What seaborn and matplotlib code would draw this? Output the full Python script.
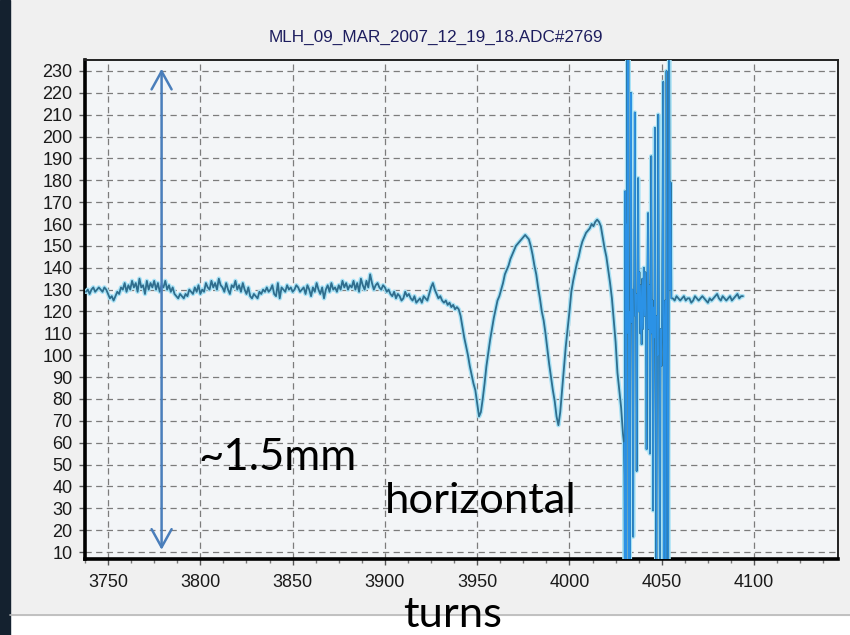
import numpy as np
import pandas as pd
import matplotlib
matplotlib.use("Agg")
import matplotlib.pyplot as plt
import seaborn as sns

# ---------------- data ----------------
TITLE = "MLH_09_MAR_2007_12_19_18.ADC#2769"

# regularly sampled part, one sample per turn, starting at turn 3738
adc_regular = [
    129, 130, 128, 130, 131, 129, 130, 131, 130, 129, 131, 130,
    128, 126, 127, 125, 127, 129, 128, 131, 130, 133, 129,
    132, 130, 134, 131, 133, 129, 135, 131, 132, 128, 134, 130, 133, 131, 134,
    130, 133, 129, 132, 131, 134, 130, 132, 129, 131, 128, 127, 126, 128, 127,
    126, 128, 127, 130, 129, 128, 131, 129, 132, 128, 130, 129, 133, 131, 130,
    134, 131, 133, 130, 135, 132, 131, 129, 133, 130, 128, 132, 131, 134, 130,
    132, 129, 133, 130, 128, 131, 127, 126, 128, 127, 126, 129, 128, 130, 129,
    131, 129, 130, 132, 128, 127, 133, 126, 131, 130, 129, 132, 130, 131, 129,
    130, 132, 131, 129, 130, 131, 128, 132, 130, 127, 131, 129, 133, 130, 128,
    131, 126, 130, 132, 129, 133, 130, 131, 129, 132, 130, 134, 131, 133, 130,
    132, 131, 134, 130, 133, 129, 135, 132, 130, 134, 131, 137, 133, 130, 132,
    133, 131, 130, 132, 131, 129, 130, 128, 127, 129, 126, 128, 127, 125, 126,
    129, 127, 128, 126, 125, 127, 124, 125, 126, 124, 127, 126, 125, 128, 131,
    # 3926 ...
    133, 130, 128, 126, 127, 125, 124, 125, 123, 124, 122, 123, 121, 122, 121,
    118, 113, 108, 104, 100, 95, 91, 87, 84, 78, 72, 74, 80, 87, 95,
    101, 107, 112, 117, 121, 125, 127, 130, 133, 137, 139, 141, 144, 146, 148,
    150, 151, 152, 153, 154, 155, 154, 153, 150, 146, 141, 137, 131, 126, 120,
    116, 110, 103, 96, 90, 84, 79, 72, 68, 74, 84, 94, 104, 112, 120,
    129, 134, 138, 142, 145, 149, 152, 154, 156, 157, 158, 160, 159, 161, 162,
    161, 159, 154, 149, 145, 139, 133, 126, 116, 106, 92, 84, 76, 64,
]
first_turn = 3738

# burst region (oscillating, densely sampled)
turns_burst = [
    4029.5, 4029.8, 4030.0, 4030.2, 4030.4, 4030.6, 4030.8, 4031.1, 4031.4, 4031.7,
    4031.9, 4032.2, 4032.5, 4032.7, 4033.0, 4033.3, 4033.6, 4034.0, 4034.5, 4034.8,
    4035.1, 4035.4, 4035.7, 4036.0, 4036.4, 4036.8, 4037.2, 4037.5, 4037.9, 4038.3,
    4038.7, 4039.1, 4039.5, 4039.9, 4040.3, 4040.7, 4041.1, 4041.5, 4041.8, 4042.2,
    4042.6, 4043.0, 4043.3, 4043.6, 4044.0, 4044.3, 4044.7, 4045.0, 4045.3, 4045.7,
    4046.0, 4046.3, 4046.7, 4047.1, 4047.5, 4047.8, 4048.1, 4048.5, 4049.0, 4049.4,
    4049.8, 4050.2, 4050.8, 4051.1, 4051.5, 4051.9, 4052.2, 4052.6, 4053.0, 4053.5,
    4054.0, 4054.4, 4054.8, 4055.2,
]
adc_burst = [
    60, 45, 0, 175, 90, 160, 0, 150, 240, 110,
    240, 0, 120, 0, 125, 220, 115, 130, 17, 120,
    135, 211, 118, 128, 47, 125, 181, 120, 138, 110,
    132, 105, 135, 112, 140, 118, 138, 110, 57, 134,
    165, 112, 132, 55, 128, 191, 110, 125, 29, 122,
    108, 204, 87, 0, 118, 100, 210, 105, 0, 112,
    95, 120, 225, 0, 110, 125, 0, 230, 100, 0,
    240, 130, 179, 126,
]

# quiet tail, one sample per turn from 4056
adc_tail = [
    126, 125, 127, 126, 125, 126, 127, 125, 126, 126, 124, 125, 127,
    126, 125, 126, 127, 126, 125, 124, 126, 125, 126, 127, 128, 126,
    125, 127, 126, 125, 126, 127, 125, 126, 127, 128, 126, 127, 127,
]
tail_first_turn = 4056

x_ticks = [3750, 3800, 3850, 3900, 3950, 4000, 4050, 4100]
y_ticks = list(range(10, 231, 10))

# ---------------- assemble ----------------
turns_regular = np.arange(first_turn, first_turn + len(adc_regular))
turns_tail = np.arange(tail_first_turn, tail_first_turn + len(adc_tail))
df = pd.DataFrame({
    "turns": np.concatenate([turns_regular, turns_burst, turns_tail]).astype(float),
    "adc": np.concatenate([adc_regular, adc_burst, adc_tail]).astype(float),
})
df_burst = pd.DataFrame({"turns": turns_burst, "adc": adc_burst})

# ---------------- figure ----------------
sns.set_style("white")
W, H = 850, 635
fig = plt.figure(figsize=(W / 100, H / 100), dpi=100)
fig.patch.set_facecolor("white")

# window background, dark side bar and separator
fig.add_artist(plt.Rectangle((10 / W, 20 / H), 1 - 10 / W, 1 - 20 / H,
                             transform=fig.transFigure, color="#f0f0f0", zorder=-10))
fig.add_artist(plt.Rectangle((0, 0), 10 / W, 1, transform=fig.transFigure,
                             color="#14212f", zorder=-9))
fig.add_artist(plt.Line2D([10 / W, 1], [20 / H, 20 / H], transform=fig.transFigure,
                          color="#b8b8b8", lw=1.2, zorder=-8))

ax = fig.add_axes([85 / W, 76 / H, 753 / W, 499 / H])
ax.set_facecolor("#f3f5f7")

sns.lineplot(data=df, x="turns", y="adc", ax=ax, sort=False, estimator=None,
             color="#a8e2f6", lw=3.2, zorder=3)
sns.lineplot(data=df, x="turns", y="adc", ax=ax, sort=False, estimator=None,
             color="#2f6e8e", lw=1.3, zorder=4)
sns.lineplot(data=df_burst, x="turns", y="adc", ax=ax, sort=False, estimator=None,
             color="#2b92e6", lw=0.8, zorder=5)

ax.set_xlim(3737.5, 4145.5)
ax.set_ylim(6.8, 235)
ax.set_xticks(x_ticks)
ax.set_xticks(np.arange(3737.5, 4145, 12.5), minor=True)
ax.set_yticks(y_ticks)
ax.set_xlabel("")
ax.set_ylabel("")

ax.grid(True, which="major", color="#7c7c7c", lw=0.9, linestyle=(0, (5, 3.5)))
ax.set_axisbelow(True)

for side in ("left", "bottom"):
    ax.spines[side].set_linewidth(2.6)
    ax.spines[side].set_color("black")
for side in ("top", "right"):
    ax.spines[side].set_linewidth(1.4)
    ax.spines[side].set_color("#222222")
    ax.spines[side].set_visible(True)

tick_font = dict(family=["Liberation Sans", "DejaVu Sans"], size=13)
ax.tick_params(axis="y", which="major", direction="out", length=4.5, width=1,
               color="#555555", pad=4.5, labelcolor="#1a1a1a", left=True)
ax.tick_params(axis="x", which="major", direction="out", length=4.5, width=1,
               color="#555555", pad=6, labelcolor="#1a1a1a", bottom=True)
ax.tick_params(axis="x", which="minor", direction="out", length=3, width=1,
               color="#777777", bottom=True)
for lab in ax.get_xticklabels() + ax.get_yticklabels():
    lab.set_fontfamily(tick_font["family"])
    lab.set_fontsize(tick_font["size"])

# title
fig.text(436 / W, 1 - 37 / H, TITLE, ha="center", va="center",
         fontsize=12.3, color="#1d1d5e", family=["Liberation Sans", "DejaVu Sans"])

# annotation arrow and slide texts
ax.annotate("", xy=(3779, 231), xytext=(3779, 11),
            arrowprops=dict(arrowstyle="<->,head_length=0.65,head_width=0.36",
                            color="#4a7ebb", lw=1.8, mutation_scale=20,
                            shrinkA=0, shrinkB=0), zorder=6)
ann_font = ["Lato", "DejaVu Sans"]
fig.text(198 / W, 1 - 470 / H, "~1.5mm", ha="left", va="baseline",
         fontsize=31.5, color="black", family=ann_font, zorder=10)
fig.text(385 / W, 1 - 513 / H, "horizontal", ha="left", va="baseline",
         fontsize=31.3, color="black", family=ann_font, zorder=10)
fig.text(403 / W, 1 - 634 / H, "turns", ha="left", va="bottom",
         fontsize=31.3, color="black", family=ann_font, zorder=10)

fig.savefig("out.png", dpi=100)
